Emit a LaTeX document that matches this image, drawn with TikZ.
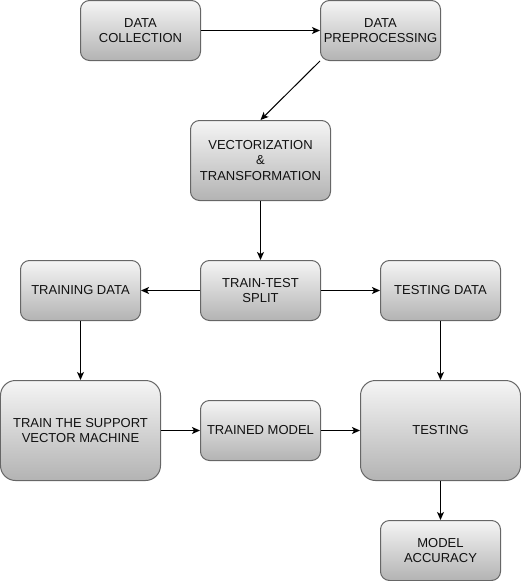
\documentclass[tikz,border=0pt]{standalone}
\usepackage{fontspec}
\setmainfont{Liberation Sans}
\usetikzlibrary{arrows.meta}
\definecolor{gtop}{HTML}{F5F5F5}
\definecolor{gbot}{HTML}{B3B3B3}
\definecolor{gstroke}{HTML}{666666}
\definecolor{gtext}{HTML}{111111}
\tikzset{
  box/.style={rectangle, rounded corners=#1, draw=gstroke, line width=1pt,
    top color=gtop, bottom color=gbot, inner sep=0pt, align=center,
    text=gtext, font=\fontsize{13}{15.6}\selectfont},
  box/.default=9pt,
  small/.style={box, minimum width=120pt, minimum height=60pt},
  big/.style={box=15pt, minimum width=160pt, minimum height=100pt},
  arr/.style={draw=black, line width=1pt, -{Stealth[length=8pt,width=7pt,inset=2pt]}}
}
\begin{document}
\begin{tikzpicture}[x=1pt,y=-1pt]
\useasboundingbox (-0.5,-0.5) rectangle (520.5,580.5);
\node[small] (coll) at (140,30) {DATA\\COLLECTION};
\node[small] (prep) at (380,30) {DATA\\PREPROCESSING};
\node[box, minimum width=140pt, minimum height=80pt] (vec) at (260,160) {VECTORIZATION\\\&\\TRANSFORMATION};
\node[small] (split) at (260,290) {TRAIN-TEST\\SPLIT};
\node[small] (train) at (80,290) {TRAINING DATA};
\node[small] (testd) at (440,290) {TESTING DATA};
\node[big] (svm) at (80,430) {TRAIN THE SUPPORT\\VECTOR MACHINE};
\node[small] (model) at (260,430) {TRAINED MODEL};
\node[big] (test) at (440,430) {TESTING};
\node[small] (acc) at (440,550) {MODEL\\ACCURACY};
\draw[arr] (coll.east) -- (prep.west);
\draw[arr] (prep.south west) -- (vec.north);
\draw[arr] (vec.south) -- (split.north);
\draw[arr] (split.west) -- (train.east);
\draw[arr] (split.east) -- (testd.west);
\draw[arr] (train.south) -- (svm.north);
\draw[arr] (testd.south) -- (test.north);
\draw[arr] (svm.east) -- (model.west);
\draw[arr] (model.east) -- (test.west);
\draw[arr] (test.south) -- (acc.north);
\end{tikzpicture}
\end{document}
